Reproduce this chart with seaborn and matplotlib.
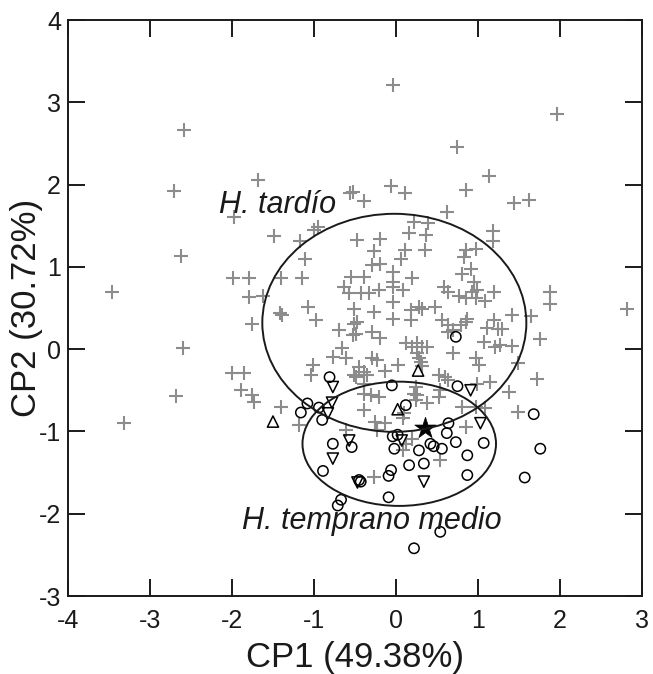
import numpy as np
import pandas as pd
import matplotlib
matplotlib.use('Agg')
import matplotlib.pyplot as plt
from matplotlib.patches import Ellipse
import seaborn as sns

# PCA scores
plus_x = [-2.59, -2.71, -1.68, -1.98, -1.49, -1.17, -1.00, -0.95, -0.56, -0.52, -0.47, -2.62, -1.11,
          -0.04, 1.96, 0.75, 1.14, 0.85, -0.39, -0.06, 0.11, 0.62, 1.44, 1.62, 1.18, 1.18, 0.22, 0.39,
          0.16, 0.37, -0.19, -0.27, 0.11, 0.35, 0.85, 0.98, 0.83, 0.06, -0.19, -0.04, -1.99, -1.79,
          -1.40, -1.14, -0.55, -0.39, -0.63, -0.57, -0.43, -0.33, -0.21, -0.04, 0.08, -1.79, -1.62,
          -0.29, -0.04, 0.20, 0.81, 0.92, 0.95, 0.58, 0.64, 0.77, 0.85, 0.93, 0.99, 0.97, 1.09, 1.20,
          1.88, 1.88, 2.82, -3.46, -1.42, -1.39, -1.07, -0.98, -1.76, -0.51, -0.51, -0.70, -0.53,
          -2.60, -0.66, -0.77, -0.61, -2.00, -1.85, -1.89, -1.75, -1.73, -2.68, -3.32, -1.40, -1.01,
          -1.04, -0.51, -1.18, -0.27, -0.04, 0.18, 0.28, 0.32, 0.48, -0.04, 0.18, 0.56, 0.64, 0.64,
          0.69, 0.79, 0.85, 0.87, 1.11, 1.19, 1.25, 1.29, 1.42, 1.65, 1.76, -0.47, -0.49, -0.29,
          -0.19, 0.12, 0.20, 0.26, 0.32, 0.38, 0.26, 0.28, 0.70, 1.07, 1.21, 1.27, 1.41, -0.29,
          -0.23, -0.45, -0.39, -0.35, 0.02, -0.13, 0.30, 0.32, 0.97, 1.01, 1.49, 0.52, 0.60, 0.64,
          1.15, 1.72, 1.38, -0.39, -0.39, -0.31, -0.21, -0.39, 0.24, 0.26, 0.24, 0.38, 0.54, 0.52,
          0.81, 0.97, 1.49, -0.25, -0.13, -0.23, 0.85, -0.27, -0.61, 0.20, 0.12, 0.08, -0.49, 0.22,
          0.10, 0.08, 0.54, 0.99, 1.09]
plus_y = [2.66, 1.92, 2.05, 1.61, 1.37, 1.32, 1.45, 1.49, 1.90, 1.91, 1.33, 1.13, 1.10,
          3.21, 2.86, 2.46, 2.11, 1.94, 1.80, 1.98, 1.90, 1.67, 1.78, 1.81, 1.44, 1.31, 1.55, 1.53,
          1.41, 1.39, 1.34, 1.19, 1.20, 1.20, 1.20, 1.22, 1.12, 1.10, 1.04, 0.94, 0.86, 0.86,
          0.86, 0.86, 0.88, 0.88, 0.76, 0.68, 0.68, 0.68, 0.72, 0.76, 0.72, 0.63, 0.65,
          1.02, 0.82, 0.86, 0.91, 0.98, 0.82, 0.76, 0.70, 0.64, 0.62, 0.70, 0.72, 0.62, 0.58, 0.70,
          0.70, 0.55, 0.49, 0.70, 0.44, 0.41, 0.51, 0.36, 0.31, 0.49, 0.31, 0.23, 0.17,
          0.01, 0.02, -0.09, -0.11, -0.29, -0.29, -0.50, -0.56, -0.64, -0.57, -0.90, -0.70, -0.19,
          -0.32, -0.32, -0.92, 0.45, 0.57, 0.47, 0.51, 0.49, 0.51, 0.37, 0.35, 0.35, 0.29, 0.21,
          0.23, 0.29, 0.33, 0.37, 0.26, 0.35, 0.25, 0.24, 0.41, 0.40, 0.12, 0.33, 0.19, 0.21,
          0.13, 0.07, 0.03, 0.07, 0.03, 0.03, -0.05, -0.11, -0.05, 0.09, 0.03, 0.05, 0.04, -0.11,
          -0.13, -0.22, -0.28, -0.32, -0.19, -0.26, -0.15, -0.21, -0.11, -0.19, -0.17, -0.32, -0.34, -0.38,
          -0.40, -0.36, -0.52, -0.42, -0.54, -0.56, -0.58, -0.74, -0.46, -0.56, -0.62, -0.66, -0.50, -0.58,
          -0.70, -0.70, -0.76, -0.88, -0.90, -0.98, -0.94, -1.55, -0.98, -1.09, -1.15, -1.23, -0.34, -0.54,
          -0.78, -0.84, -1.35, -0.42, -0.72]

circ_x = [0.73, -0.81, -0.05, 0.75, 0.12, -1.08, -1.16, -0.94, -0.90, 1.68, 0.64, 0.62, -0.04, 0.02,
          -0.02, -0.54, -0.77, -0.89, 0.16, -0.06, -0.09, -0.45, -0.43, -0.67, -0.71, -0.09, 1.07,
          1.76, 0.73, 0.42, 0.46, 0.56, 0.28, 0.87, 0.34, 0.87, 1.57, 0.54, 0.22]
circ_y = [0.15, -0.34, -0.44, -0.45, -0.68, -0.66, -0.77, -0.71, -0.86, -0.79, -0.90, -1.02, -1.06, -1.04,
          -1.21, -1.19, -1.15, -1.48, -1.41, -1.47, -1.54, -1.59, -1.61, -1.83, -1.90, -1.80, -1.14,
          -1.21, -1.13, -1.15, -1.18, -1.21, -1.23, -1.29, -1.39, -1.53, -1.56, -2.22, -2.42]

tri_up_x = [-1.50, 0.27, 0.02]
tri_up_y = [-0.88, -0.26, -0.73]

tri_dn_x = [-0.77, -0.78, -0.83, 0.91, 1.03, 0.07, -0.57, -0.77, -0.47, 0.34]
tri_dn_y = [-0.46, -0.65, -0.78, -0.50, -0.90, -1.11, -1.11, -1.33, -1.62, -1.61]

star_x = [0.36]
star_y = [-0.96]

# confidence ellipses: center x, center y, width, height
ell_tardio = (-0.02, 0.32, 3.22, 2.65)
ell_temprano = (0.04, -1.15, 2.36, 1.51)

sns.set_style('ticks')
plt.rcParams['font.family'] = ['Liberation Sans', 'DejaVu Sans']
plt.rcParams['axes.unicode_minus'] = False

fig = plt.figure(figsize=(6.53, 6.74), dpi=100)
ax = fig.add_axes([0.1041, 0.1157, 0.879, 0.8546])

sns.scatterplot(x=plus_x, y=plus_y, marker='+', color='#8c8c8c', s=95, linewidth=1.5, ax=ax, zorder=2)
sns.scatterplot(x=circ_x, y=circ_y, marker='o', color='black', facecolor='none', edgecolor='black',
                s=55, linewidth=1.1, ax=ax, zorder=3)
sns.scatterplot(x=tri_up_x, y=tri_up_y, marker='^', color='black', facecolor='none', edgecolor='black',
                s=65, linewidth=1.1, ax=ax, zorder=3)
sns.scatterplot(x=tri_dn_x, y=tri_dn_y, marker='v', color='black', facecolor='none', edgecolor='black',
                s=65, linewidth=1.1, ax=ax, zorder=3)
sns.scatterplot(x=star_x, y=star_y, marker='*', color='black', edgecolor='black',
                s=260, linewidth=0.5, ax=ax, zorder=4)

for cx, cy, w, h in [ell_tardio, ell_temprano]:
    ax.add_patch(Ellipse((cx, cy), w, h, fill=False, edgecolor='#1a1a1a', linewidth=1.4, zorder=5))

ax.text(-2.16, 1.66, 'H. tardío', fontsize=22, style='italic', color='#1a1a1a', va='baseline', ha='left')
ax.text(-1.88, -2.18, 'H. temprano medio', fontsize=22, style='italic', color='#1a1a1a',
        va='baseline', ha='left')

ax.set_xlim(-4, 3)
ax.set_ylim(-3, 4)
ax.set_xticks(range(-4, 4))
ax.set_yticks(range(-3, 5))
ax.tick_params(direction='in', length=12, width=1.4, labelsize=18, top=True, right=True,
               labeltop=False, labelright=False, colors='#1a1a1a')
ax.tick_params(axis='x', pad=9)
ax.tick_params(axis='y', pad=5)
for sp in ax.spines.values():
    sp.set_linewidth(1.4)
    sp.set_color('#1a1a1a')
ax.set_xlabel('CP1 (49.38%)', fontsize=25, color='#1a1a1a', labelpad=6)
ax.set_ylabel('CP2 (30.72%)', fontsize=25, color='#1a1a1a', labelpad=-3)

fig.savefig('out.png', dpi=100)
